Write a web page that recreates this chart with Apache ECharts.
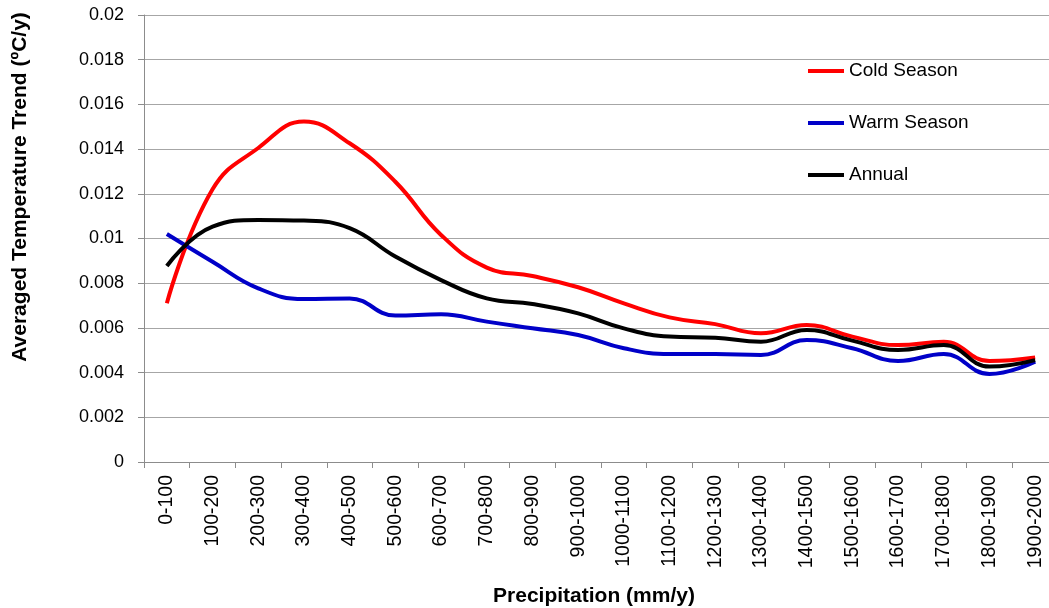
<!DOCTYPE html>
<html>
<head>
<meta charset="utf-8">
<script src="https://cdn.jsdelivr.net/npm/echarts@6/dist/echarts.min.js"></script>
<style>
html,body{margin:0;padding:0;background:#fff;overflow:hidden;width:1049px;height:608px;}
#chart{width:1070px;height:608px;}
</style>
</head>
<body>
<div id="chart"></div>
<script>
const categories = ['0-100','100-200','200-300','300-400','400-500','500-600','600-700','700-800','800-900','900-1000',
  '1000-1100','1100-1200','1200-1300','1300-1400','1400-1500','1500-1600','1600-1700','1700-1800','1800-1900','1900-2000'];
const coldSeason = [0.0071,0.0122,0.01405,0.01523,0.01426,0.01254,0.01016,0.0087,0.00832,0.00782,
  0.0071,0.00647,0.00617,0.00576,0.00613,0.00561,0.00523,0.00538,0.00452,0.00468];
const warmSeason = [0.0102,0.00896,0.00777,0.00729,0.00732,0.00655,0.00661,0.00628,0.00598,0.00568,
  0.00509,0.00483,0.00483,0.00479,0.00546,0.00509,0.00452,0.00483,0.00394,0.00449];
const annual = [0.00877,0.01053,0.01083,0.0108,0.01046,0.00919,0.00814,0.00732,0.00707,0.00665,
  0.00598,0.00561,0.00556,0.00538,0.00591,0.00543,0.00501,0.00523,0.00427,0.00456];
const seriesNames = ['Cold Season','Warm Season','Annual'];
const xTitle = 'Precipitation (mm/y)';
const yTitle = 'Averaged Temperature Trend (ºC/y)';

const chart = echarts.init(document.getElementById('chart'), null, {renderer:'canvas'});
const font = 'Liberation Sans';
const colors = ['#ff0000','#0000c8','#000000'];
function mk(name, data, color){
  return {name, type:'line', data, smooth:0.45, symbol:'none',
    lineStyle:{color, width:4}, itemStyle:{color}};
}
chart.setOption({
  animation:false,
  grid:{left:144, right:12, top:15, bottom:146, containLabel:false},
  legend:{
    orient:'vertical', left:803, top:56, itemWidth:36, itemHeight:4, itemGap:32,
    icon:'rect',
    textStyle:{fontFamily:font, fontSize:19, color:'#000', lineHeight:20},
    data:seriesNames.map((n,i)=>({name:n, itemStyle:{color:colors[i]}})),
  },
  xAxis:{
    type:'category', data:categories, boundaryGap:true,
    axisLine:{lineStyle:{color:'#8c8c8c', width:1}},
    axisTick:{show:true, length:6, alignWithLabel:false, lineStyle:{color:'#8c8c8c'}},
    axisLabel:{rotate:90, interval:0, margin:13, fontFamily:font, fontSize:19.5, color:'#000'},
    splitLine:{show:false}
  },
  yAxis:{
    type:'value', min:0, max:0.02, interval:0.002,
    axisLine:{show:true, lineStyle:{color:'#8c8c8c', width:1}},
    axisTick:{show:true, length:6, lineStyle:{color:'#8c8c8c'}},
    axisLabel:{margin:20, fontFamily:font, fontSize:18, color:'#000',
      formatter:v=>String(parseFloat(v.toFixed(4)))},
    splitLine:{show:true, lineStyle:{color:'#a6a6a6', width:1}}
  },
  graphic:[
    {type:'text', x:594, y:596, style:{text:xTitle, fontFamily:font, fontWeight:'bold', fontSize:21,
      fill:'#000', align:'center', verticalAlign:'middle'}},
    {type:'text', x:20, y:187, rotation:Math.PI/2, style:{text:yTitle, fontFamily:font, fontWeight:'bold', fontSize:21,
      fill:'#000', align:'center', verticalAlign:'middle'}}
  ],
  series:[
    mk(seriesNames[0], coldSeason, colors[0]),
    mk(seriesNames[1], warmSeason, colors[1]),
    mk(seriesNames[2], annual, colors[2])
  ]
});
</script>
</body>
</html>
